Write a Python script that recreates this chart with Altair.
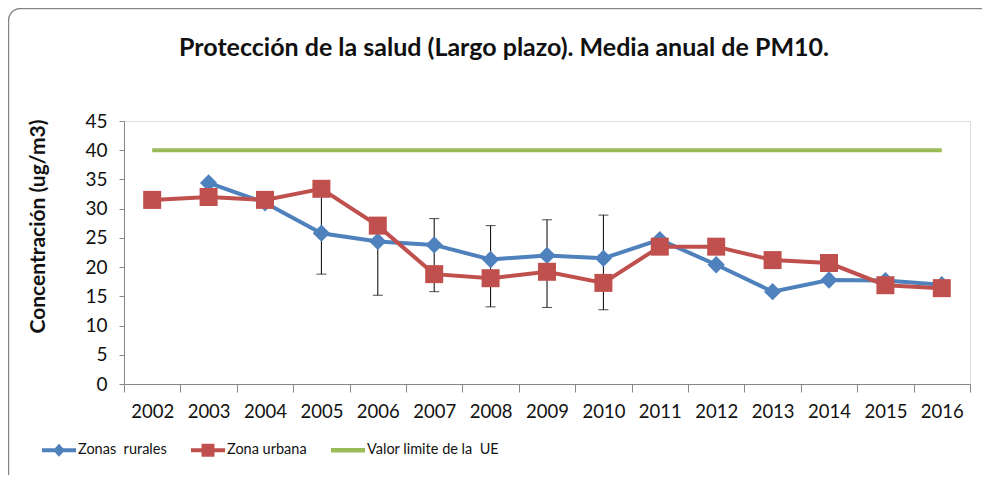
import altair as alt
import pandas as pd

# ---- data ----
years = ["2002", "2003", "2004", "2005", "2006", "2007", "2008", "2009",
         "2010", "2011", "2012", "2013", "2014", "2015", "2016"]
rural = [None, 34.4, 31.0, 25.8, 24.4, 23.8, 21.3, 22.0, 21.5, 24.7,
         20.4, 15.8, 17.8, 17.7, 17.0]
urban = [31.5, 32.0, 31.5, 33.4, 27.1, 18.8, 18.1, 19.2, 17.3, 23.5,
         23.5, 21.2, 20.7, 16.9, 16.4]
limit = [40, 40, 40, 40, 40, 40, 40, 40, 40, 40, 40, 40, 40, 40, 40]

err_years = ["2005", "2006", "2007", "2008", "2009", "2010"]
err_low = [18.8, 15.2, 15.8, 13.2, 13.1, 12.7]
err_high = [32.6, 27.0, 28.3, 27.1, 28.1, 28.9]

series_names = ["Zonas \u00a0rurales", "Zona urbana", "Valor limite de la \u00a0UE"]
series_colors = ["#4F81BD", "#C0504D", "#9BBB59"]
y_ticks = [0, 5, 10, 15, 20, 25, 30, 35, 40, 45]

title_text = "Protección de la salud (Largo plazo). Media anual de PM10."
y_title = "Concentración (ug/m3)"

# ---- tables ----
df = pd.DataFrame({"year": years, "rural": rural, "urban": urban, "limit": limit})
err = pd.DataFrame({"year": err_years, "low": err_low, "high": err_high})
leg = pd.DataFrame({"series": series_names, "year": ["2002"] * 3, "value": [None] * 3})
frame = pd.DataFrame({"k": [0]})

W, H = 846, 263
AX = "#868686"
TXT = "#111111"
FONT = "Lato"

xscale = alt.Scale(type="band", domain=years, paddingInner=0, paddingOuter=0)
yscale = alt.Scale(domain=[0, 45], nice=False, zero=True)

xaxis = alt.Axis(title=None, labelAngle=0, tickBand="extent", tickSize=8,
                 tickColor=AX, domainColor=AX, labelFontSize=18.5, labelColor=TXT,
                 labelPadding=10, grid=False, labelFont=FONT, labelOverlap=False)
yaxis = alt.Axis(title=y_title, values=y_ticks, tickSize=5, tickColor=AX,
                 domainColor=AX, labelFontSize=19, labelColor=TXT, labelPadding=12,
                 grid=False, labelFont=FONT, labelOverlap=False,
                 titleFont=FONT, titleFontSize=21,
                 titleFontWeight="bold", titleColor=TXT, titleAngle=270,
                 titleX=-86, titleY=105, titleBaseline="middle", titleAlign="center")

X = alt.X("year:O", scale=xscale, axis=xaxis)


def Y(field):
    return alt.Y(field, scale=yscale, axis=yaxis)


frame_layer = alt.Chart(frame).mark_rect(
    fillOpacity=0, stroke=AX, strokeWidth=1.5, cornerRadius=12
).encode(x=alt.value(-115.5), x2=alt.value(W + 60), y=alt.value(-112.5), y2=alt.value(H + 150))

base = alt.Chart(df)

green = base.mark_line(color=series_colors[2], strokeWidth=4).encode(x=X, y=Y("limit:Q"))

bars = alt.Chart(err).mark_rule(color="#000000", strokeWidth=1).encode(
    x=X, y=Y("low:Q"), y2="high:Q")
cap_lo = alt.Chart(err).mark_tick(color="#000000", thickness=1, size=10).encode(
    x=X, y=Y("low:Q"))
cap_hi = alt.Chart(err).mark_tick(color="#000000", thickness=1, size=10).encode(
    x=X, y=Y("high:Q"))

blue_line = base.mark_line(color=series_colors[0], strokeWidth=4).encode(x=X, y=Y("rural:Q"))
blue_pts = base.mark_point(shape="diamond", filled=True, size=300, opacity=1,
                           color=series_colors[0]).encode(x=X, y=Y("rural:Q"))
red_line = base.mark_line(color=series_colors[1], strokeWidth=4).encode(x=X, y=Y("urban:Q"))
red_pts = base.mark_point(shape="square", filled=True, size=324, opacity=1,
                          color=series_colors[1]).encode(x=X, y=Y("urban:Q"))

sym_paths = [
    "M-1,-0.12H1V0.12H-1Z M0,-0.38L0.35,0L0,0.38L-0.35,0Z",
    "M-1,-0.12H1V0.12H-1Z M-0.38,-0.38H0.38V0.38H-0.38Z",
    "M-1,-0.13H1V0.13H-1Z",
]
legend_def = alt.Legend(title=None, orient="none", direction="horizontal",
                        legendX=-82, legendY=312, symbolSize=1156,
                        symbolStrokeWidth=0, labelFontSize=14.5, labelFont=FONT,
                        labelColor=TXT, labelOffset=2, columnPadding=24,
                        padding=0, symbolOpacity=1)
legend_layer = alt.Chart(leg).mark_point(filled=True, opacity=1).encode(
    x=X,
    y=Y("value:Q"),
    color=alt.Color("series:N", scale=alt.Scale(domain=series_names, range=series_colors),
                    legend=legend_def),
    shape=alt.Shape("series:N", scale=alt.Scale(domain=series_names, range=sym_paths),
                    legend=legend_def),
)

chart = alt.layer(
    frame_layer, green, bars, cap_lo, cap_hi, blue_line, blue_pts, red_line, red_pts, legend_layer
).properties(
    width=W, height=H,
    padding={"left": 116, "top": 113, "right": 12, "bottom": 91},
    autosize=alt.AutoSizeParams(type="none"),
    title=alt.Title(title_text, font=FONT, fontSize=25, fontWeight="bold", color=TXT,
                    anchor="middle", frame="group", dx=-43, offset=-73,
                    baseline="alphabetic"),
).configure_view(strokeWidth=0).configure(background="white")

chart.save("out.html", embed_options={"renderer": "svg", "actions": False})
